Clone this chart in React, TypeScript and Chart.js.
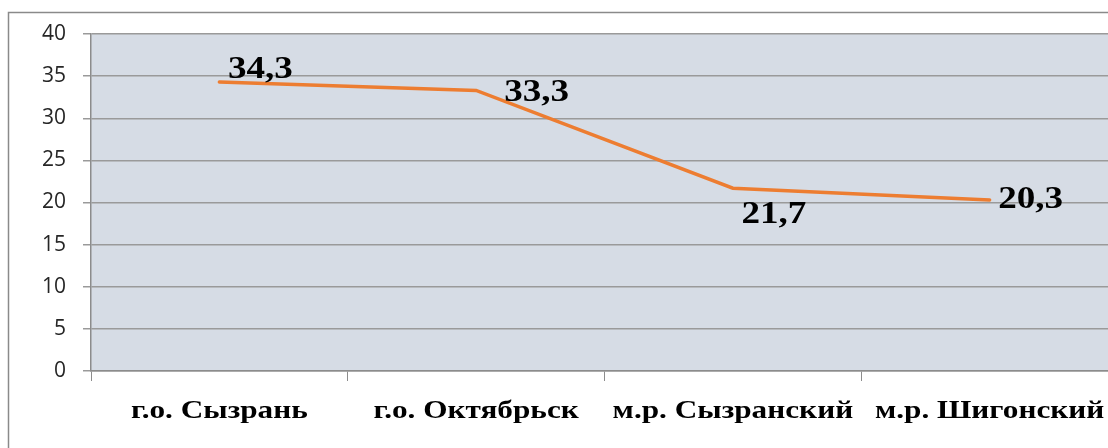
import React, { useEffect, useRef } from "react";
import { Chart, registerables } from "chart.js";

Chart.register(...registerables);

const categories = ["г.о. Сызрань", "г.о. Октябрьск", "м.р. Сызранский", "м.р. Шигонский"];
const values = [34.3, 33.3, 21.7, 20.3];
const valueLabels = ["34,3", "33,3", "21,7", "20,3"];
const yTicks = { min: 0, max: 40, step: 5 };

// label placement relative to each point: [dx to left edge, dy to baseline]
const labelOffsets: [number, number][] = [
  [8.5, -4],
  [28, 11],
  [8.5, 35],
  [8.5, 8],
];

const textStretch = 1.16;
const xLabelStretch = 1.25;

const decorPlugin = {
  id: "decor",
  beforeDraw(chart: any) {
    const { ctx, chartArea } = chart;
    ctx.save();
    ctx.fillStyle = "#ffffff";
    ctx.fillRect(0, 0, chart.width, chart.height);
    ctx.strokeStyle = "#8a8a8a";
    ctx.lineWidth = 1.5;
    ctx.beginPath();
    ctx.moveTo(8.5, chart.height + 5);
    ctx.lineTo(8.5, 12.5);
    ctx.lineTo(chart.width + 5, 12.5);
    ctx.stroke();
    ctx.fillStyle = "#d6dce5";
    ctx.fillRect(chartArea.left, chartArea.top, chartArea.right - chartArea.left, chartArea.bottom - chartArea.top);
    ctx.restore();
  },
  afterDatasetsDraw(chart: any) {
    const { ctx } = chart;
    const meta = chart.getDatasetMeta(0);
    ctx.save();
    ctx.fillStyle = "#000000";
    ctx.font = "bold 32px 'Liberation Serif'";
    ctx.textBaseline = "alphabetic";
    ctx.textAlign = "left";
    meta.data.forEach((pt: any, i: number) => {
      const [dx, dy] = labelOffsets[i];
      ctx.save();
      ctx.translate(pt.x + dx, pt.y + dy);
      ctx.scale(textStretch, 1);
      ctx.fillText(valueLabels[i], 0, 0);
      ctx.restore();
    });
    // x-axis category labels
    const xScale = chart.scales.x;
    ctx.font = "bold 25px 'Liberation Serif'";
    ctx.textAlign = "center";
    categories.forEach((c, i) => {
      const x = xScale.getPixelForValue(i);
      ctx.save();
      ctx.translate(x, 418);
      ctx.scale(xLabelStretch, 1);
      ctx.fillText(c, 0, 0);
      ctx.restore();
    });
    ctx.restore();
  },
};

export default function App() {
  const ref = useRef<HTMLCanvasElement | null>(null);
  useEffect(() => {
    if (!ref.current) return;
    const chart = new Chart(ref.current, {
      type: "line",
      data: {
        labels: categories,
        datasets: [
          {
            data: values,
            borderColor: "#ed7d31",
            borderWidth: 3.5,
            pointRadius: 0,
            tension: 0,
            borderCapStyle: "round",
          },
        ],
      },
      options: {
        animation: false,
        responsive: true,
        maintainAspectRatio: false,
        layout: { padding: { top: 34, right: 2, left: 0, bottom: 0 } },
        plugins: { legend: { display: false }, tooltip: { enabled: false } },
        scales: {
          x: {
            offset: true,
            afterFit: (s: any) => {
              s.height = 77;
            },
            grid: {
              offset: true,
              drawOnChartArea: false,
              drawTicks: true,
              tickLength: 10,
              color: "#8c8c8c",
              lineWidth: 1,
            },
            border: { display: true, color: "#8c8c8c", width: 1.5 },
            ticks: { display: false },
          },
          y: {
            min: yTicks.min,
            max: yTicks.max,
            afterFit: (s: any) => {
              s.width = 91;
            },
            ticks: {
              stepSize: yTicks.step,
              padding: 17,
              color: "#262626",
              font: { family: "'Open Sans'", size: 21 },
            },
            grid: {
              color: "#9a9a9a",
              lineWidth: 1.5,
              tickLength: 8,
            },
            border: { display: true, color: "#8c8c8c", width: 1.5 },
          },
        },
      },
      plugins: [decorPlugin],
    });
    return () => chart.destroy();
  }, []);
  return (
    <div style={{ position: "fixed", left: 0, top: 0, width: 1108, height: 448, overflow: "hidden", background: "#fff" }}>
      <div style={{ position: "relative", width: 1120, height: 448 }}>
        <canvas ref={ref} />
      </div>
    </div>
  );
}
